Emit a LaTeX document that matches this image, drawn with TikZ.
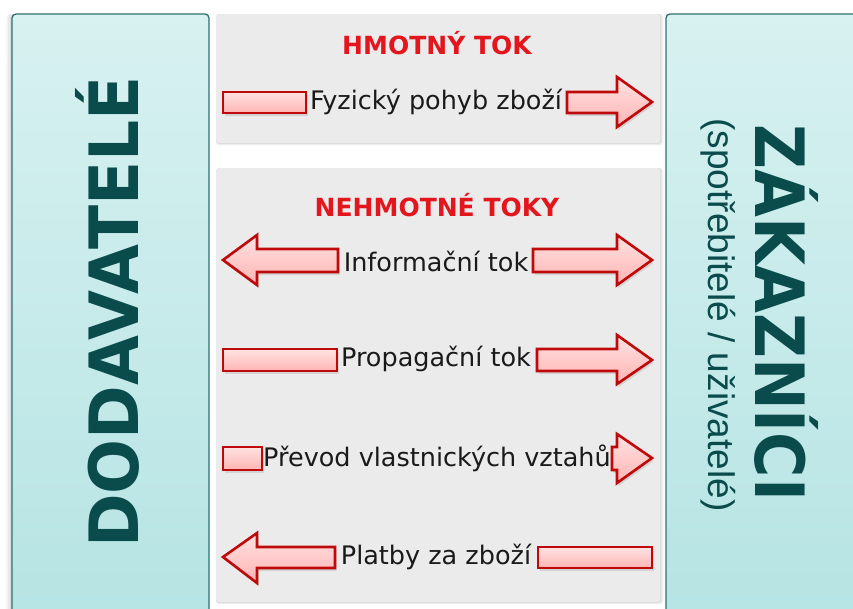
\documentclass[tikz,border=0pt]{standalone}
\usepackage{fontspec}
\setmainfont{DejaVu Sans}
\newfontfamily\subfont{Liberation Sans}
\usetikzlibrary{shadows}
\definecolor{boxedge}{HTML}{2F6F6F}
\definecolor{boxtop}{HTML}{D8F1F1}
\definecolor{boxbot}{HTML}{B5E3E3}
\definecolor{tealtext}{HTML}{0A4B4B}
\definecolor{panel}{HTML}{EBEBEB}
\definecolor{arrowedge}{HTML}{BE0A0A}
\definecolor{arrowtop}{HTML}{FFE2E2}
\definecolor{arrowbot}{HTML}{FFB4B4}
\definecolor{titlered}{HTML}{E3161E}
\definecolor{txt}{HTML}{1A1A1A}
\tikzset{
  sidebox/.style={draw=boxedge, line width=1.3pt, rounded corners=4pt, top color=boxtop, bottom color=boxbot},
  panelbox/.style={fill=panel, rounded corners=3pt},
  blockarrow/.style={draw=arrowedge, line width=2.6pt, line join=miter, top color=arrowtop, bottom color=arrowbot,
     drop shadow={shadow xshift=1.5pt, shadow yshift=-3pt, opacity=0.22}},
  flowlabel/.style={font=\fontsize{25.5}{28}\selectfont, text=txt, inner sep=0pt},
  flowtitle/.style={font=\fontsize{25}{28}\selectfont\bfseries, text=titlered, inner sep=0pt},
  bigtext/.style={font=\fontsize{68}{70}\selectfont\bfseries, text=tealtext, inner sep=0pt},
}
\begin{document}
\begin{tikzpicture}[x=1pt,y=-1pt]
\useasboundingbox (0,0) rectangle (853,608);
% soft shadows
\foreach \o/\a in {6/0.04,4/0.05,2/0.06}{
  \fill[black,opacity=\a,rounded corners=4pt] (12-\o,14) rectangle (209,630);
  \fill[black,opacity=\a,rounded corners=3pt] (216,14) rectangle (660+\o*0.6,143+\o*0.4);
  \fill[black,opacity=\a,rounded corners=3pt] (216,168) rectangle (660+\o*0.6,602+\o*0.4);
}
% side boxes
\path[sidebox] (12,14) rectangle (209,640);
\path[sidebox] (666,14) rectangle (870,640);
% panels
\path[panelbox] (216,14) rectangle (660,143);
\path[panelbox] (216,168) rectangle (660,602);
% side texts
\node[bigtext, rotate=90, anchor=base] (dod) at (138,312) {\scalebox{0.95}[1]{DODAVATELÉ}};
\node[bigtext, rotate=-90, anchor=base] (zak) at (755,313) {\scalebox{0.91}[1]{ZÁKAZNÍCI}};
\node[rotate=-90, anchor=base, inner sep=0pt, text=tealtext, font=\subfont\fontsize{37}{40}\selectfont] (spot) at (708,315) {(spotřebitelé / uživatelé)};
% titles
\node[flowtitle] (hmotny) at (437,43) {HMOTNÝ TOK};
\node[flowtitle] (nehmotne) at (437,205) {NEHMOTNÉ TOKY};
% labels
\node[flowlabel] (fyz) at (436,102) {Fyzický pohyb zboží};
\node[flowlabel] (inf) at (436,261) {Informační tok};
\node[flowlabel] (prop) at (436,359) {Propagační tok};
\node[flowlabel] (prev) at (437,458) {Převod vlastnických vztahů};
\node[flowlabel] (plat) at (436,557) {Platby za zboží};
% row 1
\path[blockarrow] (223,92) rectangle (306,113);
\path[blockarrow] (567,92) -- (617,92) -- (617,77) -- (652,102) -- (617,127) -- (617,113) -- (567,113) -- cycle;
% row 2
\path[blockarrow] (338,249) -- (257,249) -- (257,235) -- (223,260) -- (257,285) -- (257,272) -- (338,272) -- cycle;
\path[blockarrow] (533,249) -- (617,249) -- (617,235) -- (652,260) -- (617,285) -- (617,272) -- (533,272) -- cycle;
% row 3
\path[blockarrow] (223,349) rectangle (337,371);
\path[blockarrow] (537,349) -- (617,349) -- (617,335) -- (652,360) -- (617,384) -- (617,371) -- (537,371) -- cycle;
% row 4
\path[blockarrow] (223,447) rectangle (262,470);
\path[blockarrow] (612,447) -- (617,447) -- (617,434) -- (652,458) -- (617,483) -- (617,470) -- (612,470) -- cycle;
% row 5
\path[blockarrow] (335,547) -- (257,547) -- (257,533) -- (223,557) -- (257,583) -- (257,568) -- (335,568) -- cycle;
\path[blockarrow] (538,547) rectangle (652,568);
\end{tikzpicture}
\end{document}
